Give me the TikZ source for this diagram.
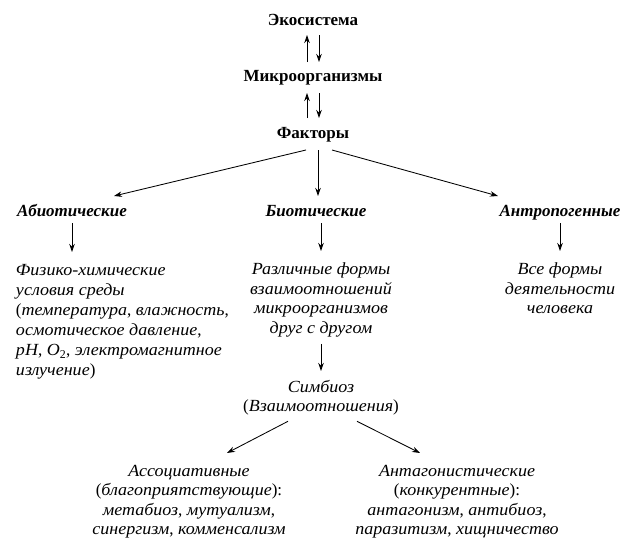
\documentclass[tikz,border=0pt]{standalone}
\usepackage{fontspec}
\setmainfont{Liberation Serif}[ItalicFeatures={FakeStretch=1.06}]
\usetikzlibrary{arrows.meta}
\newcommand\ru[1]{\textup{#1}}
\begin{document}
\begin{tikzpicture}[x=1pt,y=-1pt,
  every node/.style={inner sep=0pt, outer sep=0pt},
  one/.style={text height=12pt, text depth=4pt},
  hd/.style={one, font=\fontsize{17}{19.6}\selectfont\bfseries},
  hdi/.style={one, font=\fontsize{17}{19.6}\selectfont\bfseries\itshape},
  txt/.style={font=\fontsize{17}{19.5}\selectfont\itshape, align=center, anchor=north},
  arr/.style={-{Stealth[length=8pt,width=5.5pt]}, line width=0.85pt}]
\useasboundingbox (0,0) rectangle (630,546);
\node[hd] (eco) at (313,21) {Экосистема};
\node[hd] (micro) at (313,77) {Микроорганизмы};
\node[hd] (fak) at (313,134) {Факторы};
\node[hdi] (abio) at (72,212) {Абиотические};
\node[hdi] (bio) at (316,212) {Биотические};
\node[hdi] (antr) at (560,212) {Антропогенные};
\node[txt, align=left, anchor=north west, font=\fontsize{17}{20.1}\selectfont\itshape] (phys) at (16,264) {Физико-химические\\ условия среды\\ \ru{(}температура\ru{,} влажность\ru{,}\\ осмотическое давление\ru{,}\\ \textit{pH}\ru{,} O\textsubscript{\textup{2}}\ru{,} электромагнитное\\ излучение\ru{)}};
\node[txt] (forms) at (321,263) {Различные формы\\ взаимоотношений\\ микроорганизмов\\ друг с другом};
\node[txt] (human) at (560,263) {Все формы\\ деятельности\\ человека};
\node[txt] (symb) at (321,380) {Симбиоз\\ \ru{(}Взаимоотношения\ru{)}};
\node[txt] (assoc) at (189,465) {Ассоциативные\\ \ru{(}благоприятствующие\ru{):}\\ метабиоз\ru{,} мутуализм\ru{,}\\ синергизм\ru{,} комменсализм};
\node[txt] (antag) at (457,465) {Антагонистические\\ \ru{(}конкурентные\ru{):}\\ антагонизм\ru{,} антибиоз\ru{,}\\ паразитизм\ru{,} хищничество};
% top double arrows
\draw[arr, shorten <=7pt, shorten >=6pt] ([xshift=-6pt]micro.north) -- ([xshift=-6pt]eco.south);
\draw[arr, shorten <=6pt, shorten >=7pt] ([xshift=6pt]eco.south) -- ([xshift=6pt]micro.north);
\draw[arr, shorten <=8pt, shorten >=8pt] ([xshift=-6pt]fak.north) -- ([xshift=-6pt]micro.south);
\draw[arr, shorten <=8pt, shorten >=8pt] ([xshift=6pt]micro.south) -- ([xshift=6pt]fak.north);
% factors
\draw[arr] ([xshift=-7pt,yshift=-8pt]fak.south) -- ([xshift=42pt,yshift=8pt]abio.north);
\draw[arr] ([xshift=5pt,yshift=-8pt]fak.south) -- ([xshift=2pt,yshift=8pt]bio.north);
\draw[arr] ([xshift=19pt,yshift=-8pt]fak.south) -- ([xshift=-62pt,yshift=8pt]antr.north);
% columns
\draw[arr, shorten <=3pt, shorten >=12pt] (abio.south) -- (abio.south |- phys.north);
\draw[arr, shorten <=3pt, shorten >=12pt] (forms.north |- bio.south) -- (forms.north);
\draw[arr, shorten <=3pt, shorten >=12pt] (antr.south) -- (human.north);
\draw[arr, shorten <=7pt, shorten >=9pt] (forms.south) -- (symb.north);
\draw[arr] ([xshift=-33pt,yshift=-6pt]symb.south) -- ([xshift=38pt,yshift=12pt]assoc.north);
\draw[arr] ([xshift=36pt,yshift=-6pt]symb.south) -- ([xshift=-37pt,yshift=12pt]antag.north);
\end{tikzpicture}
\end{document}
